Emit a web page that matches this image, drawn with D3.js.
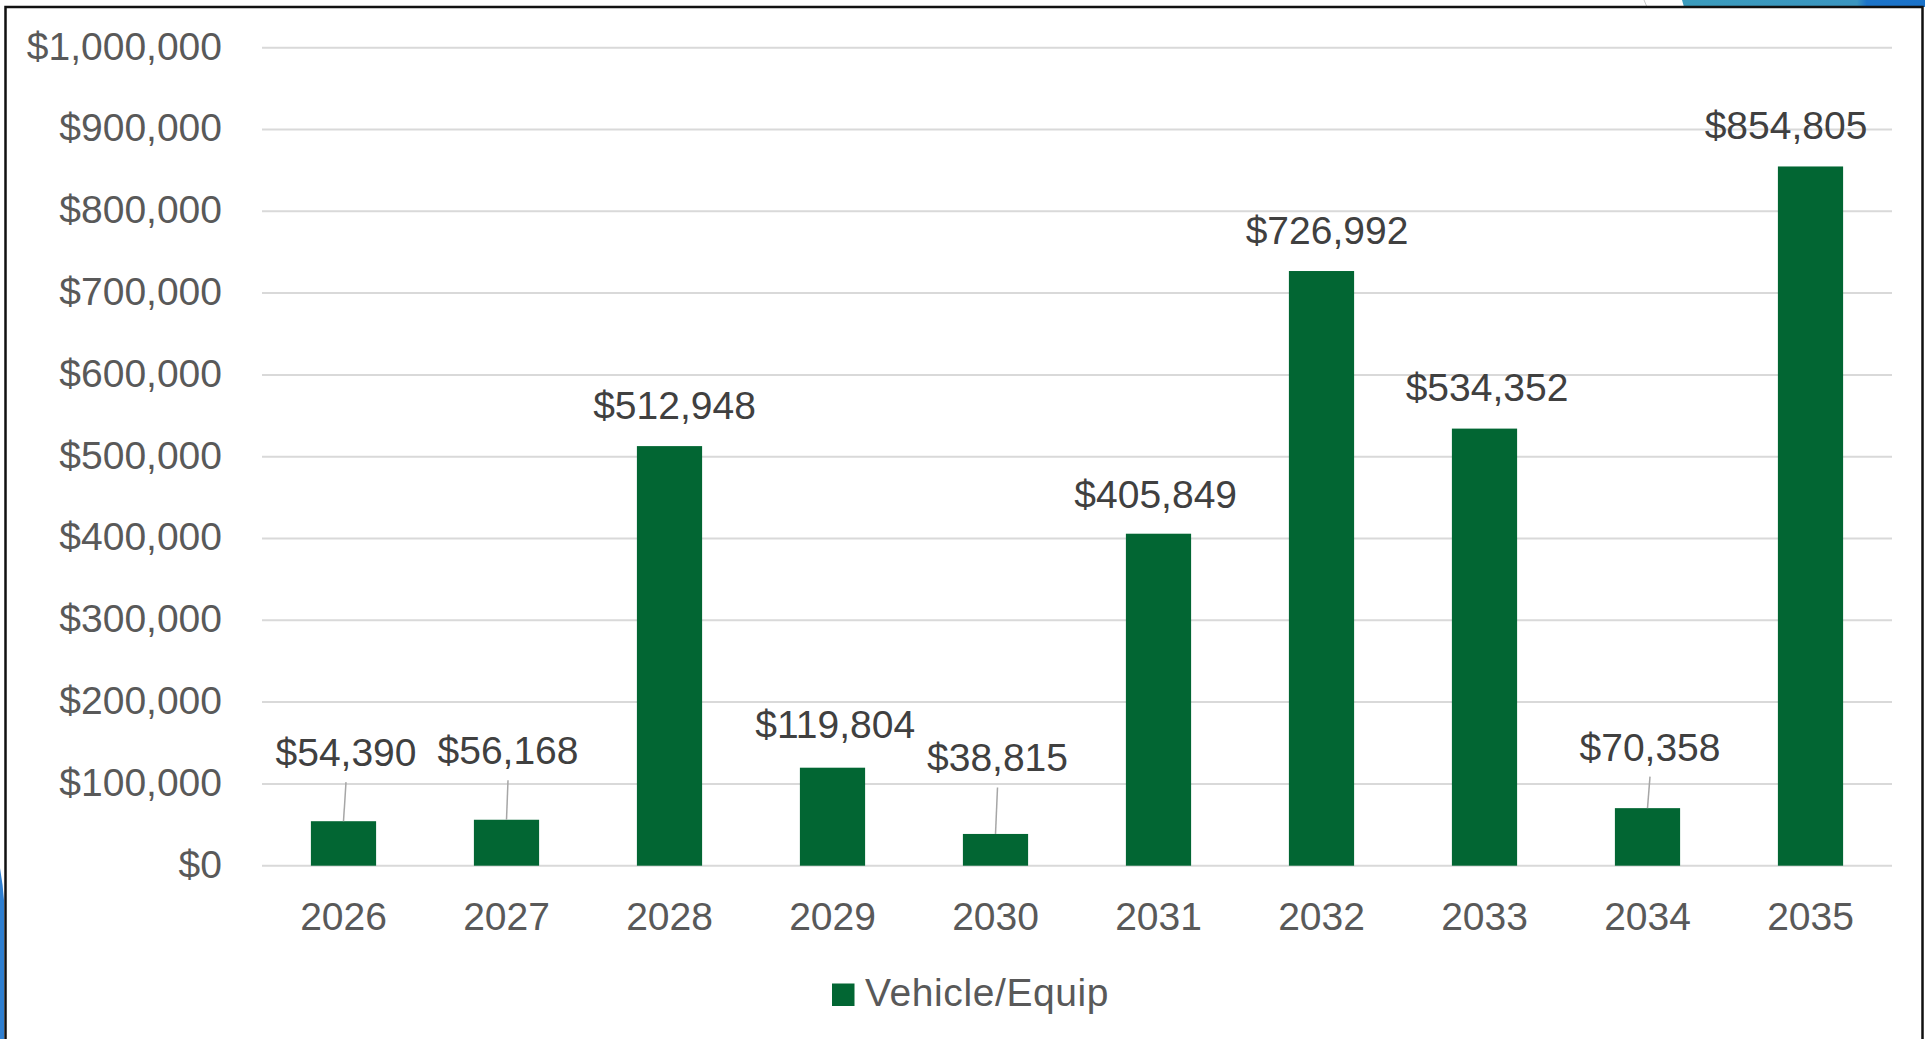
<!DOCTYPE html>
<html>
<head>
<meta charset="utf-8">
<script src="https://cdn.jsdelivr.net/npm/d3@7"></script>
<style>
  html, body { margin: 0; padding: 0; background: #ffffff; }
  svg { display: block; }
  text { font-family: "Liberation Sans", Arial, sans-serif; }
</style>
</head>
<body>
<svg id="chart" width="1925" height="1039"></svg>
<script>
// ---- data ----
const categories = ["2026", "2027", "2028", "2029", "2030", "2031", "2032", "2033", "2034", "2035"];
const values = [54390, 56168, 512948, 119804, 38815, 405849, 726992, 534352, 70358, 854805];
const yTicks = [0, 100000, 200000, 300000, 400000, 500000, 600000, 700000, 800000, 900000, 1000000];
const seriesName = "Vehicle/Equip";

// ---- layout (label nudges in px, relative to default position above bar) ----
const labelNudgeX = [2.5, 1.5, 5, 2.7, 2, -2.8, 5.5, 2.5, 2.5, -24.5];
const labelNudgeY = [-27.6, -28, 0, -2.7, -35, 2, 0, 0, -20, 0];

const W = 1925, H = 1039;
const plot = { left: 262, right: 1892, top: 47.7, bottom: 865.7 };
const barColor = "#026633";

const svg = d3.select("#chart");

// decorations outside the chart frame
const grad = svg.append("defs").append("linearGradient").attr("id", "tr").attr("x1", 0).attr("x2", 1);
grad.append("stop").attr("offset", "0").attr("stop-color", "#3b9cbd");
grad.append("stop").attr("offset", "0.72").attr("stop-color", "#3a95c0");
grad.append("stop").attr("offset", "0.76").attr("stop-color", "#1c74c9");
grad.append("stop").attr("offset", "1").attr("stop-color", "#1a72c9");
svg.append("path").attr("d", "M1682,0 L1925,0 L1925,7 L1684,7 Z").attr("fill", "url(#tr)");
svg.append("path").attr("d", "M1644,0 L1647,7").attr("stroke", "#c8c8c8").attr("stroke-width", 1);
svg.append("path").attr("d", "M0,868 Q3,885 4,900 L4,1039 L0,1039 Z").attr("fill", "#2f7fd0");

// chart frame
svg.append("rect").attr("x", 5.5).attr("y", 7).attr("width", 1917).attr("height", 1045)
  .attr("fill", "#ffffff").attr("stroke", "#111111").attr("stroke-width", 2.5);

const x = d3.scaleBand().domain(categories).range([plot.left, plot.right]).paddingInner(0.6).paddingOuter(0.3);
const y = d3.scaleLinear().domain([0, 1000000]).range([plot.bottom, plot.top]);

const money = v => "$" + d3.format(",")(v);

// gridlines
svg.append("g").selectAll("line").data(yTicks).join("line")
  .attr("x1", plot.left).attr("x2", plot.right)
  .attr("y1", d => y(d)).attr("y2", d => y(d))
  .attr("stroke", "#d9d9d9").attr("stroke-width", 2);

// y axis labels
const yAxis = d3.axisLeft(y).tickValues(yTicks).tickFormat(money).tickSize(0).tickPadding(0);
const gy = svg.append("g").attr("transform", `translate(222,0)`).call(yAxis);
gy.select(".domain").remove();
gy.selectAll("text").attr("font-size", 39).attr("fill", "#595959")
  .attr("font-family", "'Liberation Sans', Arial, sans-serif").attr("dy", "0.29em");

// x axis labels
const xAxis = d3.axisBottom(x).tickSize(0).tickPadding(0);
const gx = svg.append("g").attr("transform", `translate(0,${plot.bottom})`).call(xAxis);
gx.select(".domain").remove();
gx.selectAll("text").attr("font-size", 39).attr("fill", "#595959")
  .attr("font-family", "'Liberation Sans', Arial, sans-serif").attr("y", 64.3).attr("dy", 0);

// bars
svg.append("g").selectAll("rect").data(values).join("rect")
  .attr("x", (d, i) => x(categories[i]))
  .attr("width", x.bandwidth())
  .attr("y", d => y(d))
  .attr("height", d => y(0) - y(d))
  .attr("fill", barColor);

// data labels
const labels = values.map((v, i) => {
  const cx = x(categories[i]) + x.bandwidth() / 2;
  const top = y(v);
  return { v, cx, top, lx: cx + labelNudgeX[i], ly: top - 27.5 + labelNudgeY[i], leader: labelNudgeY[i] < -15 };
});

// leader lines
svg.append("g").selectAll("line").data(labels.filter(d => d.leader)).join("line")
  .attr("x1", d => d.lx).attr("y1", d => d.ly + 16)
  .attr("x2", d => d.cx).attr("y2", d => d.top)
  .attr("stroke", "#a6a6a6").attr("stroke-width", 1.5);

svg.append("g").selectAll("text").data(labels).join("text")
  .attr("x", d => d.lx).attr("y", d => d.ly)
  .attr("text-anchor", "middle")
  .attr("font-size", 39).attr("fill", "#404040")
  .text(d => money(d.v));

// legend
const lg = svg.append("g").attr("transform", "translate(832,983.5)");
lg.append("rect").attr("width", 22.5).attr("height", 22.5).attr("fill", barColor);
lg.append("text").attr("x", 33).attr("y", 22.5).attr("font-size", 39).attr("letter-spacing", 0.6)
  .attr("fill", "#595959").text(seriesName);
</script>
</body>
</html>
